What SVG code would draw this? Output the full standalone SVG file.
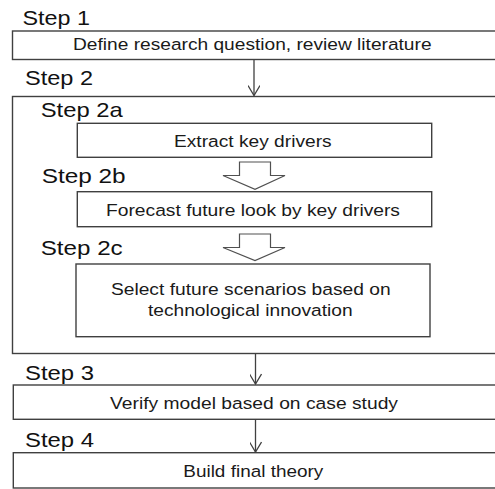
<svg xmlns="http://www.w3.org/2000/svg" width="495" height="489" viewBox="0 0 495 489">
<defs>
<style>
.box{fill:#fff;stroke:#404040;stroke-width:1.4}
.step{font-family:"Liberation Sans",Arial,sans-serif;font-size:21px;fill:#111}
.lbl{font-family:"Liberation Sans",Arial,sans-serif;font-size:16.3px;fill:#1a1a1a;text-anchor:middle}
.conn{stroke:#404040;stroke-width:1.3;fill:none}
.blk{fill:#fff;stroke:#505050;stroke-width:1.2}
</style>
<marker id="ah" viewBox="0 0 12 12" refX="11" refY="6" markerWidth="12" markerHeight="12" markerUnits="userSpaceOnUse" orient="auto">
<path d="M1,0 L11,6 L1,12" fill="none" stroke="#404040" stroke-width="1.3"/>
</marker>
</defs>
<rect width="495" height="489" fill="#fff"/>
<g id="step1">
<text class="step" x="22.5" y="25" textLength="67.5" lengthAdjust="spacingAndGlyphs">Step 1</text>
<rect class="box" x="12.5" y="31" width="500" height="28.5"/>
<text class="lbl" x="252.3" y="50" textLength="358.5" lengthAdjust="spacingAndGlyphs">Define research question, review literature</text>
</g>
<g id="step2">
<text class="step" x="25" y="85" textLength="68" lengthAdjust="spacingAndGlyphs">Step 2</text>
<rect class="box" x="12.5" y="96.5" width="500" height="257"/>
</g>
<g id="step2a">
<text class="step" x="40.7" y="116.7" textLength="82" lengthAdjust="spacingAndGlyphs">Step 2a</text>
<rect class="box" x="77.3" y="123.3" width="354.4" height="34"/>
<text class="lbl" x="252.8" y="146.7" textLength="157.7" lengthAdjust="spacingAndGlyphs">Extract key drivers</text>
</g>
<g id="step2b">
<text class="step" x="41.7" y="183.3" textLength="84" lengthAdjust="spacingAndGlyphs">Step 2b</text>
<rect class="box" x="77.3" y="191.7" width="354.4" height="35"/>
<text class="lbl" x="253" y="216" textLength="294" lengthAdjust="spacingAndGlyphs">Forecast future look by key drivers</text>
</g>
<g id="step2c">
<text class="step" x="40.7" y="255" textLength="82" lengthAdjust="spacingAndGlyphs">Step 2c</text>
<rect class="box" x="76" y="264" width="354" height="72.7"/>
<text class="lbl" x="250.8" y="295" textLength="279.7" lengthAdjust="spacingAndGlyphs">Select future scenarios based on</text>
<text class="lbl" x="250.3" y="316" textLength="204.7" lengthAdjust="spacingAndGlyphs">technological innovation</text>
</g>
<g id="step3">
<text class="step" x="25" y="380" textLength="69" lengthAdjust="spacingAndGlyphs">Step 3</text>
<rect class="box" x="13.3" y="385" width="500" height="34.3"/>
<text class="lbl" x="254" y="409" textLength="288" lengthAdjust="spacingAndGlyphs">Verify model based on case study</text>
</g>
<g id="step4">
<text class="step" x="25" y="447.3" textLength="69" lengthAdjust="spacingAndGlyphs">Step 4</text>
<rect class="box" x="13.3" y="452.7" width="500" height="35.3"/>
<text class="lbl" x="253.3" y="476.7" textLength="140" lengthAdjust="spacingAndGlyphs">Build final theory</text>
</g>
<g id="connectors">
<line class="conn" x1="254" y1="59.5" x2="254" y2="95.5" marker-end="url(#ah)"/>
<polygon class="blk" points="239.5,162 270.5,162 270.5,175.5 285,175.5 255,189.3 223,175.5 239.5,175.5"/>
<polygon class="blk" points="239.5,234 270.5,234 270.5,247.5 285,247.5 255,260.5 223,247.5 239.5,247.5"/>
<line class="conn" x1="255.5" y1="353.5" x2="255.5" y2="384" marker-end="url(#ah)"/>
<line class="conn" x1="255.5" y1="419.3" x2="255.5" y2="452" marker-end="url(#ah)"/>
</g>
</svg>
